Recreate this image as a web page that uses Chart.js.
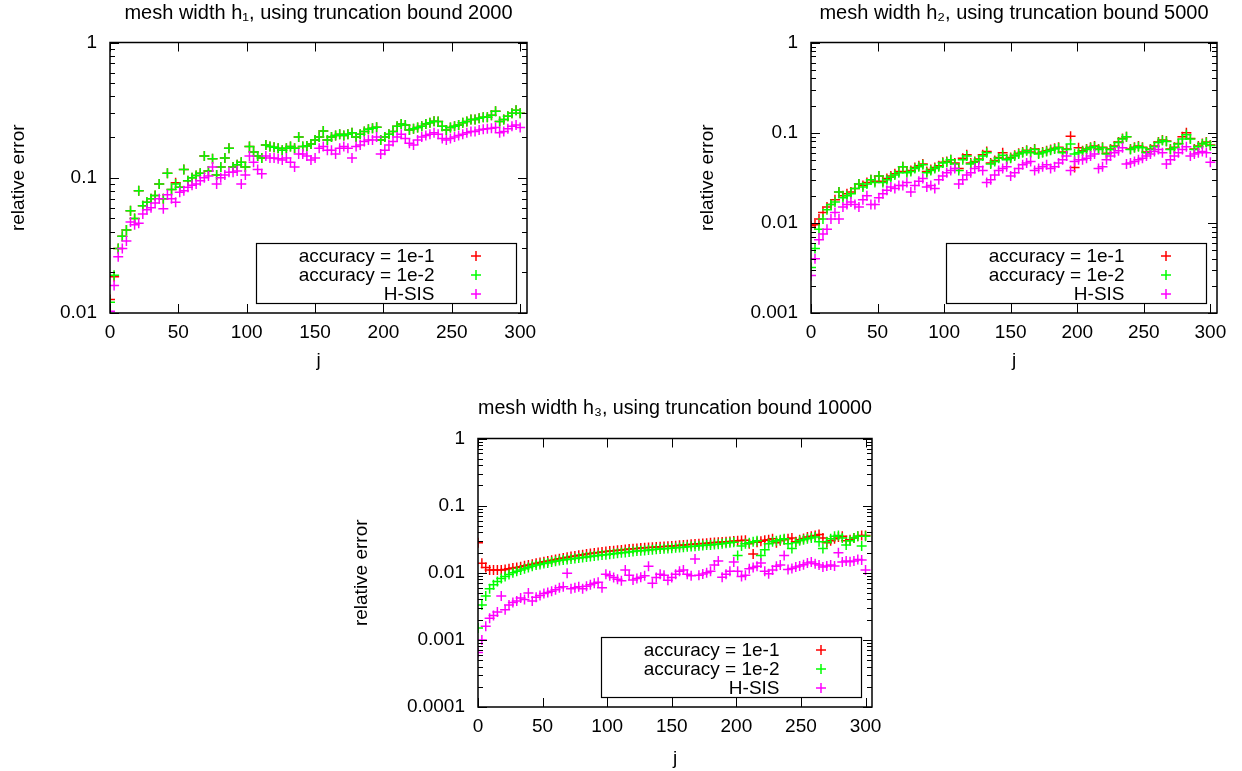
<!DOCTYPE html>
<html>
<head>
<meta charset="utf-8">
<script src="https://cdn.jsdelivr.net/npm/chart.js@4.4.1/dist/chart.umd.min.js"></script>
<style>
  body { margin: 0; background: #fff; }
  #page { position: relative; width: 1242px; height: 771px; overflow: hidden; }
  canvas { position: absolute; }
</style>
</head>
<body>
<div id="page">
  <canvas id="c1" width="560" height="373" style="left:0;top:0"></canvas>
  <canvas id="c2" width="562" height="373" style="left:680px;top:0"></canvas>
  <canvas id="c3" width="560" height="381" style="left:340px;top:390px"></canvas>
</div>
<script>
// j values (every 3rd index)
const jValues = [0,3,6,9,12,15,18,21,24,27,30,33,36,39,42,45,48,51,54,57,
  60,63,66,69,72,75,78,81,84,87,90,93,96,99,102,105,108,111,114,117,
  120,123,126,129,132,135,138,141,144,147,150,153,156,159,162,165,168,171,174,177,
  180,183,186,189,192,195,198,201,204,207,210,213,216,219,222,225,228,231,234,237,
  240,243,246,249,252,255,258,261,264,267,270,273,276,279,282,285,288,291,294,297,300];

const seriesLabels = ['accuracy = 1e-1', 'accuracy = 1e-2', 'H-SIS'];
const seriesColors = ['#ff0000', '#00ff00', '#ff00ff'];

const titles = [
  'mesh width h\u2081, using truncation bound 2000',
  'mesh width h\u2082, using truncation bound 5000',
  'mesh width h\u2083, using truncation bound 10000'
];

const xTicks = [0, 50, 100, 150, 200, 250, 300];
const yTicks1 = [0.01, 0.1, 1];
const yLabels1 = ['0.01', '0.1', '1'];
const yTicks2 = [0.001, 0.01, 0.1, 1];
const yLabels2 = ['0.001', '0.01', '0.1', '1'];
const yTicks3 = [0.0001, 0.001, 0.01, 0.1, 1];
const yLabels3 = ['0.0001', '0.001', '0.01', '0.1', '1'];

// panel 1: h1, bound 2000 (red mostly hidden under green)
const p1Acc1 = [0.0126,0.0185,0.030,0.037,0.041,0.057,0.050,0.080,0.062,0.066,
  0.070,0.074,0.090,0.070,0.108,0.082,0.092,0.085,0.115,0.095,
  0.100,0.104,0.108,0.145,0.112,0.138,0.105,0.120,0.140,0.165,
  0.120,0.125,0.130,0.120,0.170,0.155,0.145,0.140,0.175,0.170,
  0.168,0.165,0.160,0.165,0.170,0.165,0.200,0.170,0.172,0.178,
  0.190,0.200,0.222,0.190,0.200,0.205,0.210,0.205,0.210,0.215,
  0.200,0.210,0.220,0.228,0.232,0.236,0.190,0.200,0.210,0.220,
  0.240,0.250,0.245,0.225,0.230,0.235,0.240,0.250,0.255,0.262,
  0.260,0.240,0.225,0.235,0.240,0.245,0.255,0.260,0.270,0.270,
  0.275,0.280,0.280,0.290,0.310,0.260,0.270,0.285,0.300,0.315,
  0.300];
const p1Acc2 = [0.012,0.019,0.030,0.037,0.041,0.057,0.050,0.080,0.062,0.066,
  0.070,0.074,0.090,0.070,0.108,0.082,0.090,0.085,0.115,0.095,
  0.100,0.104,0.108,0.145,0.112,0.138,0.105,0.120,0.140,0.165,
  0.120,0.125,0.130,0.120,0.170,0.155,0.145,0.140,0.175,0.170,
  0.168,0.165,0.160,0.165,0.170,0.165,0.200,0.170,0.172,0.178,
  0.190,0.200,0.222,0.190,0.200,0.205,0.210,0.205,0.210,0.215,
  0.200,0.210,0.220,0.228,0.232,0.236,0.190,0.200,0.210,0.220,
  0.240,0.250,0.245,0.225,0.230,0.235,0.240,0.250,0.255,0.262,
  0.260,0.240,0.225,0.235,0.240,0.245,0.255,0.260,0.270,0.270,
  0.275,0.280,0.280,0.290,0.310,0.260,0.270,0.285,0.300,0.315,
  0.300];
const p1Hsis = [0.0103,0.016,0.026,0.030,0.034,0.047,0.045,0.046,0.054,0.058,
  0.060,0.065,0.070,0.059,0.075,0.070,0.066,0.078,0.080,0.085,
  0.088,0.090,0.095,0.100,0.103,0.120,0.090,0.100,0.105,0.110,
  0.110,0.112,0.090,0.105,0.145,0.130,0.115,0.107,0.145,0.140,
  0.140,0.138,0.135,0.140,0.130,0.120,0.150,0.150,0.145,0.135,
  0.140,0.165,0.170,0.160,0.160,0.150,0.165,0.170,0.165,0.140,
  0.170,0.175,0.185,0.190,0.190,0.200,0.150,0.160,0.175,0.185,
  0.200,0.210,0.195,0.180,0.175,0.190,0.200,0.205,0.210,0.215,
  0.210,0.195,0.190,0.195,0.200,0.205,0.210,0.215,0.220,0.220,
  0.225,0.228,0.230,0.232,0.235,0.215,0.220,0.230,0.240,0.245,
  0.235];

// panel 2: h2, bound 5000
const p2Acc1 = [0.0093,0.0095,0.011,0.013,0.015,0.016,0.018,0.022,0.020,0.021,
  0.022,0.024,0.027,0.026,0.028,0.030,0.029,0.033,0.029,0.031,
  0.033,0.035,0.037,0.042,0.037,0.038,0.041,0.043,0.045,0.037,
  0.039,0.041,0.043,0.047,0.048,0.050,0.046,0.040,0.052,0.057,
  0.046,0.048,0.051,0.057,0.062,0.046,0.049,0.053,0.060,0.051,
  0.053,0.056,0.059,0.061,0.064,0.061,0.066,0.059,0.061,0.063,
  0.065,0.067,0.069,0.061,0.066,0.091,0.041,0.068,0.063,0.066,
  0.069,0.071,0.066,0.069,0.059,0.066,0.071,0.079,0.086,0.090,
  0.066,0.069,0.071,0.069,0.061,0.066,0.071,0.079,0.083,0.081,
  0.066,0.069,0.076,0.090,0.100,0.086,0.066,0.071,0.076,0.079,
  0.073];
const p2Acc2 = [0.0032,0.0052,0.0085,0.011,0.014,0.016,0.017,0.022,0.019,0.020,
  0.021,0.024,0.027,0.025,0.027,0.030,0.028,0.033,0.028,0.030,
  0.032,0.034,0.036,0.042,0.036,0.037,0.040,0.042,0.044,0.036,
  0.038,0.040,0.042,0.046,0.047,0.050,0.045,0.038,0.050,0.055,
  0.045,0.047,0.050,0.055,0.060,0.045,0.048,0.052,0.056,0.050,
  0.052,0.055,0.058,0.060,0.063,0.060,0.065,0.058,0.060,0.062,
  0.064,0.066,0.068,0.060,0.065,0.075,0.058,0.060,0.062,0.065,
  0.068,0.070,0.065,0.068,0.058,0.065,0.070,0.078,0.085,0.090,
  0.065,0.068,0.070,0.068,0.060,0.065,0.070,0.078,0.082,0.080,
  0.065,0.068,0.075,0.085,0.095,0.085,0.065,0.070,0.075,0.078,
  0.072];
const p2Hsis = [0.0026,0.0040,0.0065,0.0075,0.0085,0.011,0.013,0.011,0.015,0.016,
  0.017,0.016,0.015,0.018,0.020,0.016,0.016,0.019,0.021,0.023,
  0.025,0.024,0.026,0.026,0.028,0.022,0.026,0.029,0.031,0.025,
  0.026,0.024,0.030,0.033,0.036,0.038,0.040,0.027,0.030,0.034,
  0.036,0.040,0.042,0.038,0.028,0.030,0.034,0.038,0.040,0.042,
  0.033,0.036,0.040,0.044,0.046,0.048,0.038,0.040,0.042,0.044,
  0.040,0.042,0.046,0.050,0.055,0.038,0.048,0.050,0.050,0.052,
  0.055,0.058,0.040,0.042,0.050,0.055,0.060,0.063,0.068,0.045,
  0.046,0.048,0.050,0.052,0.055,0.058,0.062,0.065,0.060,0.045,
  0.050,0.055,0.060,0.065,0.070,0.055,0.058,0.060,0.062,0.060,
  0.047];

// panel 3: h3, bound 10000
const p3Acc1 = [0.028,0.0138,0.012,0.011,0.011,0.011,0.011,0.0112,0.0115,0.0118,
  0.012,0.0123,0.0127,0.013,0.0134,0.0138,0.0142,0.0146,0.015,0.0154,
  0.0158,0.0162,0.0166,0.017,0.0174,0.0178,0.0182,0.0186,0.019,0.0194,
  0.0197,0.020,0.0204,0.0207,0.021,0.0213,0.0216,0.0219,0.0222,0.0225,
  0.0228,0.023,0.0233,0.0235,0.0237,0.024,0.0242,0.0244,0.0246,0.0248,
  0.025,0.0253,0.0256,0.0259,0.0262,0.0265,0.0268,0.027,0.0273,0.0276,
  0.0279,0.0282,0.0285,0.0288,0.029,0.0293,0.0296,0.030,0.0303,0.0306,
  0.027,0.019,0.0285,0.0295,0.0305,0.031,0.032,0.028,0.030,0.031,
  0.032,0.033,0.029,0.031,0.0325,0.034,0.035,0.036,0.037,0.033,
  0.028,0.030,0.032,0.034,0.035,0.030,0.031,0.033,0.035,0.036,
  0.036];
const p3Acc2 = [0.0015,0.0033,0.0045,0.0058,0.0066,0.0074,0.0082,0.0088,0.0094,0.0100,
  0.0105,0.011,0.0115,0.012,0.0125,0.013,0.0133,0.0137,0.014,0.0145,
  0.0148,0.0152,0.0155,0.0158,0.016,0.0163,0.0166,0.0169,0.0172,0.0175,
  0.0178,0.018,0.0184,0.0186,0.0189,0.0192,0.0195,0.0198,0.0201,0.0204,
  0.0207,0.021,0.0212,0.0215,0.0218,0.022,0.0223,0.0226,0.0228,0.023,
  0.0232,0.0235,0.0238,0.024,0.0243,0.0246,0.0249,0.0252,0.0255,0.0258,
  0.026,0.0263,0.0266,0.027,0.0275,0.028,0.0285,0.018,0.025,0.027,
  0.028,0.029,0.030,0.018,0.022,0.027,0.029,0.030,0.031,0.032,
  0.027,0.023,0.028,0.030,0.031,0.032,0.033,0.034,0.029,0.023,
  0.029,0.032,0.035,0.036,0.033,0.026,0.030,0.033,0.035,0.025,
  0.035];
const p3Hsis = [0.00065,0.0010,0.0016,0.0021,0.0023,0.0026,0.0045,0.0028,0.0033,0.0036,
  0.0038,0.0042,0.0040,0.0050,0.0038,0.0043,0.0046,0.0049,0.0051,0.0053,
  0.0056,0.0060,0.0062,0.0098,0.0058,0.0060,0.0062,0.0058,0.0063,0.0066,
  0.0070,0.0072,0.0060,0.0095,0.0090,0.0085,0.0080,0.0076,0.0110,0.0092,
  0.0078,0.0082,0.0086,0.0090,0.0125,0.0070,0.0085,0.0095,0.0092,0.0077,
  0.0085,0.0095,0.0105,0.0110,0.0095,0.0090,0.0160,0.0092,0.0096,0.0100,
  0.0105,0.0130,0.0150,0.0086,0.0095,0.0105,0.0145,0.0105,0.0088,0.0092,
  0.0115,0.0120,0.0125,0.0140,0.0105,0.0097,0.0110,0.0125,0.0130,0.0180,
  0.0112,0.0116,0.0122,0.0126,0.0132,0.0140,0.0145,0.0136,0.0130,0.0122,
  0.0126,0.0131,0.0126,0.0198,0.0145,0.0150,0.0146,0.0150,0.0158,0.0155,
  0.0110];

const yMinorSteps = [2, 3, 4, 5, 6, 7, 8, 9];

window.onload = function() {
    Chart.defaults.font.family = '"Liberation Sans", Arial, sans-serif';
    Chart.defaults.font.size = 19;
    Chart.defaults.color = '#000';

    // gnuplot style frame: border box, inward ticks on all sides, key box
    const gnuFrame = {
        id: 'gnuFrame',
        afterDatasetsDraw(chart, args, opts) {
            const ctx = chart.ctx;
            const a = chart.chartArea;
            const xs = chart.scales.x;
            const ys = chart.scales.y;
            ctx.save();
            ctx.strokeStyle = '#000';
            ctx.lineWidth = 1;
            ctx.beginPath();
            xTicks.forEach(v => {
                const px = Math.round(xs.getPixelForValue(v)) + 0.5;
                ctx.moveTo(px, a.bottom); ctx.lineTo(px, a.bottom - 9);
                ctx.moveTo(px, a.top); ctx.lineTo(px, a.top + 9);
            });
            opts.yTicks.forEach((d, i) => {
                const py = Math.round(ys.getPixelForValue(d)) + 0.5;
                ctx.moveTo(a.left, py); ctx.lineTo(a.left + 9, py);
                ctx.moveTo(a.right, py); ctx.lineTo(a.right - 9, py);
                if (i < opts.yTicks.length - 1) {
                    yMinorSteps.forEach(m => {
                        const pm = Math.round(ys.getPixelForValue(d * m)) + 0.5;
                        ctx.moveTo(a.left, pm); ctx.lineTo(a.left + 5, pm);
                        ctx.moveTo(a.right, pm); ctx.lineTo(a.right - 5, pm);
                    });
                }
            });
            ctx.stroke();

            ctx.lineWidth = 1.5;
            ctx.strokeRect(a.left, a.top, a.width, a.height);

            // key
            const boxW = 260, boxH = 60;
            const bx = Math.round(a.right - 11 - boxW) + 0.5;
            const by = Math.round(a.bottom - 10 - boxH) + 0.5;
            ctx.lineWidth = 1.2;
            ctx.strokeStyle = '#000';
            ctx.strokeRect(bx, by, boxW, boxH);
            ctx.font = '19px "Liberation Sans", Arial, sans-serif';
            ctx.textAlign = 'right';
            ctx.textBaseline = 'middle';
            seriesLabels.forEach((label, i) => {
                const ry = Math.round(by + 12 + i * 19);
                ctx.fillStyle = '#000';
                ctx.fillText(label, bx + boxW - 82, ry + 1);
                const mx = Math.round(bx + boxW - 41);
                ctx.strokeStyle = seriesColors[i];
                ctx.lineWidth = 1.5;
                ctx.beginPath();
                ctx.moveTo(mx - 5, ry); ctx.lineTo(mx + 5, ry);
                ctx.moveTo(mx, ry - 5); ctx.lineTo(mx, ry + 5);
                ctx.stroke();
            });
            ctx.restore();
        }
    };

    const panels = [
        { id: 'c1', title: titles[0], series: [p1Acc1, p1Acc2, p1Hsis],
          yTicks: yTicks1, yLabels: yLabels1, yMin: 0.01,
          yWidth: 110, padRight: 33, xHeight: 60,
          titlePad: { top: 1, bottom: 17.5 }, yTitlePad: 7.6 },
        { id: 'c2', title: titles[1], series: [p2Acc1, p2Acc2, p2Hsis],
          yTicks: yTicks2, yLabels: yLabels2, yMin: 0.001,
          yWidth: 131, padRight: 25, xHeight: 60,
          titlePad: { top: 1, bottom: 17.5 }, yTitlePad: 16 },
        { id: 'c3', title: titles[2], series: [p3Acc1, p3Acc2, p3Hsis],
          yTicks: yTicks3, yLabels: yLabels3, yMin: 0.0001,
          yWidth: 138, padRight: 28, xHeight: 64,
          titlePad: { top: 6, bottom: 18.5 }, yTitlePad: 10.6 }
    ];

    panels.forEach(p => {
        const ctx = document.getElementById(p.id).getContext('2d');
        const datasets = p.series.map((vals, i) => ({
            label: seriesLabels[i],
            data: jValues.map((j, k) => ({ x: j, y: vals[k] })),
            showLine: false,
            pointStyle: 'cross',
            pointRadius: 5,
            pointBorderWidth: 1.5,
            borderColor: seriesColors[i],
            backgroundColor: seriesColors[i],
            order: 3 - i
        }));

        new Chart(ctx, {
            type: 'scatter',
            data: { datasets: datasets },
            options: {
                responsive: false,
                animation: false,
                events: [],
                layout: { padding: { left: 0, right: p.padRight, top: 0, bottom: 0 }, autoPadding: false },
                plugins: {
                    legend: { display: false },
                    tooltip: { enabled: false },
                    title: {
                        display: true,
                        text: p.title,
                        fullSize: false,
                        font: { size: 20, weight: 'normal', lineHeight: 1.2 },
                        padding: p.titlePad
                    },
                    gnuFrame: { yTicks: p.yTicks }
                },
                scales: {
                    x: {
                        type: 'linear',
                        min: 0,
                        max: 305,
                        border: { display: false },
                        grid: { display: false, drawTicks: false },
                        afterBuildTicks: s => { s.ticks = xTicks.map(v => ({ value: v })); },
                        afterFit: s => { s.height = p.xHeight; },
                        ticks: { padding: 8, maxRotation: 0, autoSkip: false,
                                 callback: v => String(v) },
                        title: { display: true, text: 'j', padding: { top: 0, bottom: 1 } }
                    },
                    y: {
                        type: 'logarithmic',
                        min: p.yMin,
                        max: 1,
                        border: { display: false },
                        grid: { display: false, drawTicks: false },
                        afterBuildTicks: s => { s.ticks = p.yTicks.map(v => ({ value: v })); },
                        afterFit: s => { s.width = p.yWidth; },
                        ticks: { padding: 13, autoSkip: false,
                                 callback: (v, i) => p.yLabels[i] },
                        title: { display: true, text: 'relative error', padding: { top: p.yTitlePad, bottom: 0 } }
                    }
                }
            },
            plugins: [gnuFrame]
        });
    });
};
</script>
</body>
</html>
